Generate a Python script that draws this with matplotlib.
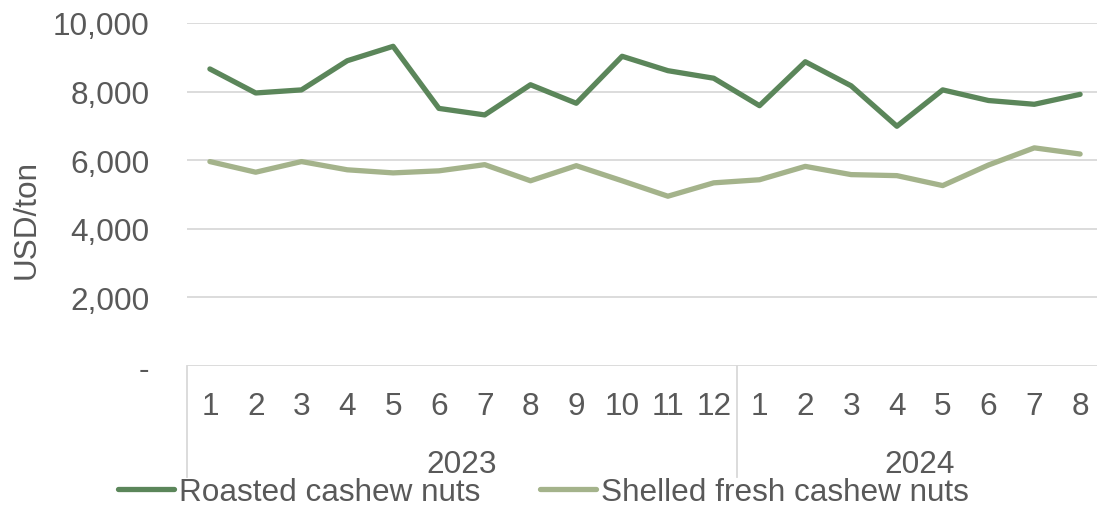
import matplotlib
matplotlib.use('Agg')
from matplotlib import pyplot as plt
import numpy as np

plt.rcParams['font.family'] = ['Liberation Sans', 'DejaVu Sans']

months = ['1', '2', '3', '4', '5', '6', '7', '8', '9', '10', '11', '12',
          '1', '2', '3', '4', '5', '6', '7', '8']
years = ['2023', '2024']
year_counts = [12, 8]

roasted = [8660, 7960, 8050, 8900, 9320, 7510, 7320, 8200, 7660, 9030,
           8610, 8390, 7590, 8870, 8170, 6990, 8050, 7740, 7630, 7920]
shelled = [5960, 5650, 5960, 5720, 5630, 5690, 5870, 5400, 5840, 5400,
           4950, 5340, 5430, 5820, 5580, 5550, 5260, 5860, 6360, 6180]

yticks = [0, 2000, 4000, 6000, 8000, 10000]
ytick_labels = ['-', '2,000', '4,000', '6,000', '8,000', '10,000']

txt = '#595959'
grid = '#D9D9D9'
c_roasted = '#5B865A'
c_shelled = '#A4B38B'
fs = 22.7

fig = plt.figure(figsize=(10.97, 5.06), dpi=100)
ax = fig.add_axes([187 / 1097, 1 - 367 / 506, (1103 - 187) / 1097, 343 / 506])

x = np.arange(len(months))
ax.plot(x, roasted, color=c_roasted, lw=3.8, label='Roasted cashew nuts', solid_capstyle='round')
ax.plot(x, shelled, color=c_shelled, lw=3.8, label='Shelled fresh cashew nuts', solid_capstyle='round')

ax.set_xlim(-0.5, len(months) - 0.5)
ax.set_ylim(0, 10000)
ax.set_yticks(yticks)
ax.set_yticklabels(ytick_labels)
ax.yaxis.grid(True, color=grid, lw=1.3)
ax.set_axisbelow(True)
for s in ax.spines.values():
    s.set_visible(False)
ax.tick_params(axis='y', length=0, pad=27, labelsize=fs, labelcolor=txt)
ax.set_xticks(x)
ax.set_xticklabels(months)
ax.tick_params(axis='x', length=0, pad=18, labelsize=fs, labelcolor=txt)

# category separators and year labels
tr = ax.get_xaxis_transform()
edges = np.concatenate([[0], np.cumsum(year_counts)]) - 0.5
for e in edges:
    ax.plot([e, e], [0, -0.325], color=grid, lw=1.3, transform=tr, clip_on=False)
for i, yr in enumerate(years):
    ax.text((edges[i] + edges[i + 1]) / 2, -0.285, yr, transform=tr,
            ha='center', va='center', fontsize=fs, color=txt)

fig.text(27 / 1097, 1 - 220 / 506, 'USD/ton', rotation=90, ha='center', va='center',
         fontsize=fs, color=txt)

leg = fig.legend(loc='center', bbox_to_anchor=(0.4955, 1 - 493 / 506), ncol=2,
                 frameon=False, fontsize=fs, handlelength=1.78, handletextpad=0.15,
                 columnspacing=1.9, borderpad=0, borderaxespad=0)
for t in leg.get_texts():
    t.set_color(txt)
for h in leg.get_lines():
    h.set_solid_capstyle('round')

fig.savefig('out.png', dpi=100)
